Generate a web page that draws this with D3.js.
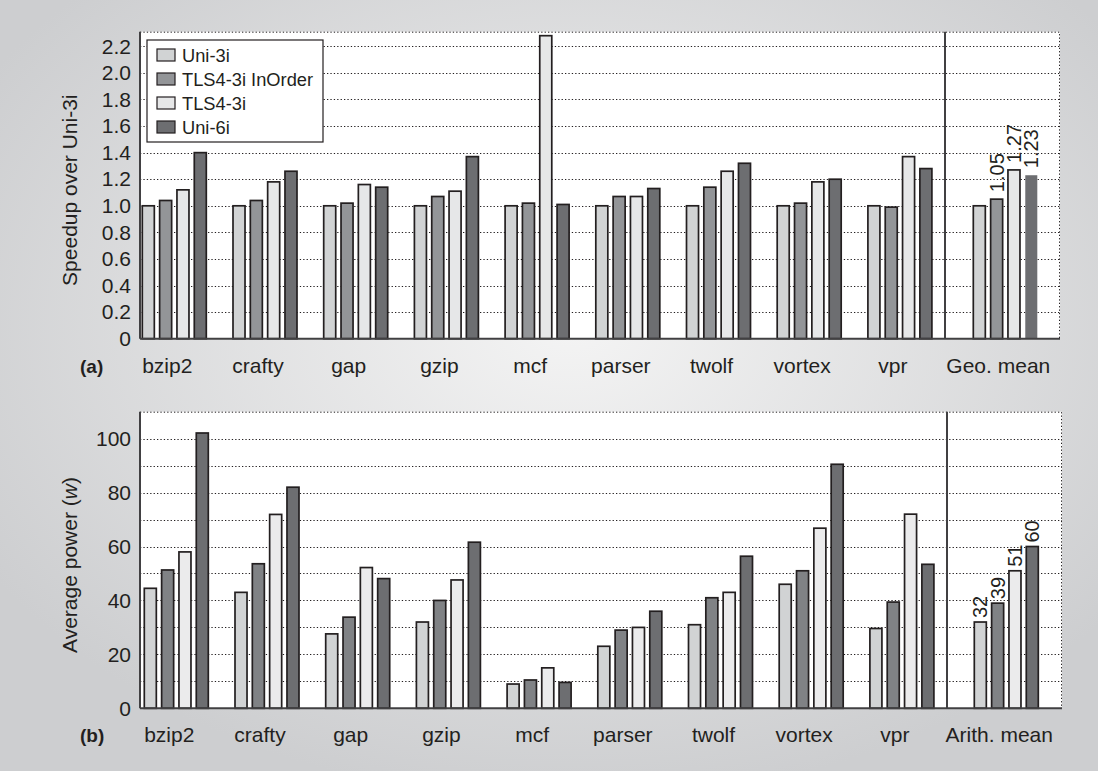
<!DOCTYPE html>
<html>
<head>
<meta charset="utf-8">
<script src="https://cdn.jsdelivr.net/npm/d3@7"></script>
<style>
  html, body { margin: 0; padding: 0; background: #e3e4e5; }
  svg { display: block; font-family: "Liberation Sans", Arial, sans-serif; }
</style>
</head>
<body>
<div id="chart"></div>
<script>
// categories and series
const benchmarks = ['bzip2', 'crafty', 'gap', 'gzip', 'mcf', 'parser', 'twolf', 'vortex', 'vpr'];
const series = ['Uni-3i', 'TLS4-3i InOrder', 'TLS4-3i', 'Uni-6i'];

// (a) speedup over Uni-3i, one array per series, benchmarks then geo. mean
const speedUni3i   = [1.00, 1.00, 1.00, 1.00, 1.00, 1.00, 1.00, 1.00, 1.00, 1.00];
const speedInOrder = [1.04, 1.04, 1.02, 1.07, 1.02, 1.07, 1.14, 1.02, 0.99, 1.05];
const speedTLS4    = [1.12, 1.18, 1.16, 1.11, 2.28, 1.07, 1.26, 1.18, 1.37, 1.27];
const speedUni6i   = [1.40, 1.26, 1.14, 1.37, 1.01, 1.13, 1.32, 1.20, 1.28, 1.23];
const speedTicks = [0, 0.2, 0.4, 0.6, 0.8, 1.0, 1.2, 1.4, 1.6, 1.8, 2.0, 2.2];

// (b) average power in watts, benchmarks then arith. mean
const powUni3i   = [44.5, 43.0, 27.6, 32.0, 9.0, 23.0, 31.0, 46.0, 29.6, 32];
const powInOrder = [51.3, 53.6, 33.8, 40.0, 10.5, 29.0, 41.0, 51.0, 39.4, 39];
const powTLS4    = [58.0, 71.9, 52.2, 47.6, 15.0, 30.0, 43.0, 66.8, 72.0, 51];
const powUni6i   = [102.1, 82.0, 48.1, 61.6, 9.6, 36.0, 56.4, 90.5, 53.4, 60];
const powTicks = [0, 20, 40, 60, 80, 100];

const W = 1098, H = 771;
const ink = '#231f20';

const svg = d3.select('#chart').append('svg')
    .attr('width', W)
    .attr('height', H);

// grey page background, lighter towards the middle
const defs = svg.append('defs');
const grad = defs.append('radialGradient')
    .attr('id', 'bg')
    .attr('cx', '52%').attr('cy', '42%').attr('r', '62%');
grad.append('stop').attr('offset', '0%').attr('stop-color', '#f4f4f4');
grad.append('stop').attr('offset', '100%').attr('stop-color', '#cdced0');
svg.append('rect').attr('width', W).attr('height', H).attr('fill', 'url(#bg)');

function drawPanel({ cats, values, fills, noStroke = [], yMax, ticks, gridStep, fmt,
                     left, right, top, bottom, groupX0, meanShift, sepX,
                     yTitle, tag, labelFmt }) {
    const g = svg.append('g');

    const y = d3.scaleLinear().domain([0, yMax]).range([bottom, top]);

    // group position: band scale over all ten categories
    const pitch = 90.7;
    const x = d3.scaleBand()
        .domain(cats)
        .range([groupX0, groupX0 + cats.length * pitch - 26.7])
        .paddingInner(26.7 / pitch)
        .paddingOuter(0)
        .align(0);
    const gx = c => x(c) + (c === cats[cats.length - 1] ? meanShift : 0);

    const xs = d3.scaleBand()
        .domain(series)
        .range([0, x.bandwidth()])
        .paddingInner(0.306);

    // plot area
    g.append('rect')
        .attr('x', left).attr('y', top)
        .attr('width', right - left).attr('height', bottom - top)
        .attr('fill', '#ffffff');

    // dotted gridlines
    const grid = d3.range(gridStep, yMax, gridStep);
    g.append('g')
        .selectAll('line')
        .data(grid)
        .join('line')
        .attr('x1', left).attr('x2', right)
        .attr('y1', d => Math.round(y(d)) + 0.5)
        .attr('y2', d => Math.round(y(d)) + 0.5)
        .attr('stroke', ink)
        .attr('stroke-width', 1)
        .attr('stroke-dasharray', '1.3,2.1');

    // dotted top / right frame
    g.append('path')
        .attr('d', `M${left},${top + 0.5}H${right - 0.5}V${bottom}`)
        .attr('fill', 'none')
        .attr('stroke', ink)
        .attr('stroke-width', 1)
        .attr('stroke-dasharray', '1.3,2.1');

    // separator before the mean group
    g.append('line')
        .attr('x1', sepX).attr('x2', sepX)
        .attr('y1', top).attr('y2', bottom)
        .attr('stroke', '#414042')
        .attr('stroke-width', 2);

    // bars
    const rows = cats.map((c, i) => ({ cat: c, i }));
    const grp = g.append('g')
        .selectAll('g')
        .data(rows)
        .join('g')
        .attr('transform', d => `translate(${gx(d.cat)},0)`);

    grp.selectAll('rect')
        .data(d => series.map((s, k) => ({ s, k, i: d.i, v: values[k][d.i] })))
        .join('rect')
        .attr('x', d => xs(d.s))
        .attr('y', d => y(d.v))
        .attr('width', xs.bandwidth())
        .attr('height', d => bottom - y(d.v))
        .attr('fill', d => fills[d.k])
        .attr('stroke', d => noStroke.some(n => n[0] === d.i && n[1] === d.k) ? 'none' : ink)
        .attr('stroke-width', 1.7);

    // value labels on the mean group
    const mean = cats[cats.length - 1];
    const last = cats.length - 1;
    g.append('g')
        .selectAll('text')
        .data(series.map((s, k) => ({ s, k, v: values[k][last] })).filter(d => d.k > 0 || labelFmt.first))
        .join('text')
        .attr('transform', d => `translate(${gx(mean) + xs(d.s) + xs.bandwidth() / 2 + 7},${y(d.v) - labelFmt.gap}) rotate(-90)`)
        .attr('font-size', 20)
        .attr('fill', ink)
        .text(d => labelFmt.f(d.v));

    // axes lines
    g.append('line')
        .attr('x1', left).attr('x2', left)
        .attr('y1', top).attr('y2', bottom)
        .attr('stroke', '#414042').attr('stroke-width', 2);
    g.append('line')
        .attr('x1', left).attr('x2', right)
        .attr('y1', bottom).attr('y2', bottom)
        .attr('stroke', '#414042').attr('stroke-width', 2);

    // y ticks
    const yAxis = d3.axisLeft(y).tickValues(ticks).tickFormat(fmt).tickSize(0).tickPadding(9);
    const ya = g.append('g')
        .attr('transform', `translate(${left},0)`)
        .call(yAxis);
    ya.select('.domain').remove();
    ya.selectAll('text')
        .attr('font-size', 21)
        .attr('font-family', '"Liberation Sans", Arial, sans-serif')
        .attr('fill', ink);

    // category labels
    g.append('g')
        .selectAll('text')
        .data(cats)
        .join('text')
        .attr('x', d => gx(d) + 25)
        .attr('y', bottom + 34)
        .attr('text-anchor', 'middle')
        .attr('font-size', 21)
        .attr('fill', ink)
        .text(d => d);

    // y title
    const t = g.append('text')
        .attr('transform', `translate(77,${(top + bottom) / 2 + 5}) rotate(-90)`)
        .attr('text-anchor', 'middle')
        .attr('font-size', 21)
        .attr('fill', ink);
    yTitle(t);

    // panel tag
    g.append('text')
        .attr('x', 80)
        .attr('y', bottom + 34)
        .attr('font-size', 19)
        .attr('font-weight', 'bold')
        .attr('fill', ink)
        .text(tag);
}

drawPanel({
    cats: [...benchmarks, 'Geo. mean'],
    values: [speedUni3i, speedInOrder, speedTLS4, speedUni6i],
    fills: ['#d1d3d4', '#939598', '#e6e7e8', '#6d6e71'],
    noStroke: [[9, 3]],
    yMax: 2.31, ticks: speedTicks, gridStep: 0.2,
    fmt: d => d === 0 ? '0' : d3.format('.1f')(d),
    left: 140, right: 1060, top: 31.7, bottom: 338.7,
    groupX0: 142.3, meanShift: 14.7, sepX: 945,
    yTitle: t => t.text('Speedup over Uni-3i'),
    tag: '(a)',
    labelFmt: { first: false, gap: 7, f: d3.format('.2f') }
});

drawPanel({
    cats: [...benchmarks, 'Arith. mean'],
    values: [powUni3i, powInOrder, powTLS4, powUni6i],
    fills: ['#d1d3d4', '#808285', '#ebebec', '#6d6e71'],
    yMax: 110, ticks: powTicks, gridStep: 10,
    fmt: d3.format('d'),
    left: 140, right: 1062, top: 411.7, bottom: 708.3,
    groupX0: 144.3, meanShift: 13.7, sepX: 947,
    yTitle: t => {
        t.append('tspan').text('Average power (');
        t.append('tspan').attr('font-style', 'italic').text('w');
        t.append('tspan').text(')');
    },
    tag: '(b)',
    labelFmt: { first: true, gap: 4, f: d3.format('d') }
});

// legend
const legend = svg.append('g').attr('transform', 'translate(147,40)');
legend.append('rect')
    .attr('width', 176).attr('height', 102)
    .attr('fill', '#ffffff')
    .attr('stroke', ink).attr('stroke-width', 1.2);
const legendFills = ['#d1d3d4', '#939598', '#e6e7e8', '#6d6e71'];
const li = legend.selectAll('g.item')
    .data(series)
    .join('g')
    .attr('class', 'item')
    .attr('transform', (d, i) => `translate(10,${15 + i * 24})`);
li.append('rect')
    .attr('x', 0).attr('y', -6)
    .attr('width', 18).attr('height', 12)
    .attr('fill', (d, i) => legendFills[i])
    .attr('stroke', ink).attr('stroke-width', 1.2);
li.append('text')
    .attr('x', 25).attr('y', 6.5)
    .attr('font-size', 18.3)
    .attr('fill', ink)
    .text(d => d);
</script>
</body>
</html>
